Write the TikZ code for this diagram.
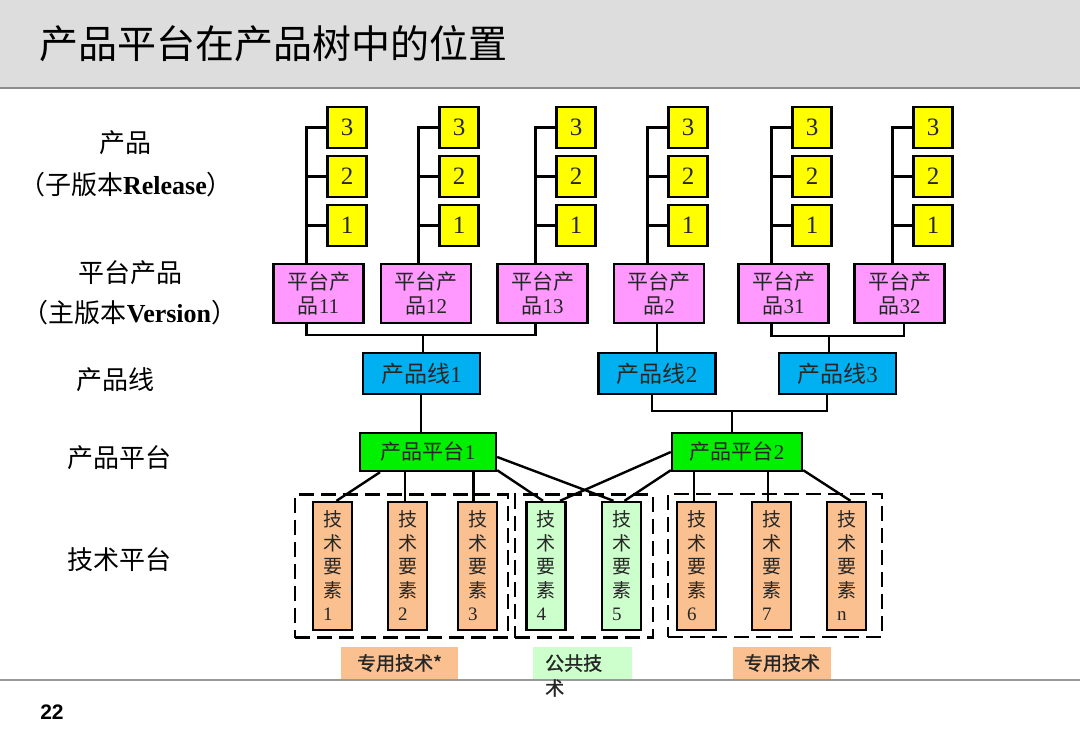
\documentclass[tikz,border=0pt]{standalone}
\usepackage{fontspec}
\setmainfont{Liberation Serif}
\newfontfamily\cjk{Noto Sans CJK SC}
\newfontfamily\cjkb[FakeBold=1.2]{Noto Sans CJK SC}
\newfontfamily\sansb{Liberation Sans}
\definecolor{yel}{HTML}{FFFF00}
\definecolor{pnk}{HTML}{FF99FF}
\definecolor{cyn}{HTML}{00B0F0}
\definecolor{grn}{HTML}{00F000}
\definecolor{tan}{HTML}{FAC090}
\definecolor{lgr}{HTML}{CCFFCC}
\definecolor{hdr}{HTML}{DDDDDD}
\begin{document}
\begin{tikzpicture}[x=1pt,y=-1pt,
  conn/.style={draw=black, line width=2.4pt},
  basebox/.style={draw=black, line width=2.4pt, inner sep=0pt, text=black!85},
  ybox/.style={basebox, fill=yel, minimum width=39pt, minimum height=41pt, font=\fontsize{25}{25}\selectfont},
  pbox/.style={basebox, fill=pnk, minimum width=90pt, minimum height=59pt, align=center, font=\cjk\fontsize{21}{24}\selectfont},
  lbox/.style={basebox, fill=cyn, minimum width=117pt, minimum height=41pt, font=\cjk\fontsize{23}{23}\selectfont},
  gbox/.style={basebox, fill=grn, minimum height=38pt, font=\cjk\fontsize{21}{21}\selectfont},
  tbox/.style={basebox, minimum width=39pt, minimum height=128pt, align=left, font=\cjk\fontsize{19}{23.5}\selectfont},
  dbox/.style={draw=black, line width=2.4pt, dash pattern=on 15pt off 7pt, inner sep=0pt, minimum height=143pt},
  lab/.style={inner sep=0pt, minimum height=32pt},
  labtext/.style={inner sep=0pt, text=black!85, font=\cjkb\fontsize{19}{25}\selectfont},
  side/.style={inner sep=0pt, text=black, font=\cjk\fontsize{26}{26}\selectfont}
]
\useasboundingbox (0,0) rectangle (1080,747);
% header
\fill[hdr] (0,0) rectangle (1080,88);
\draw[line width=2.2pt, color=black!45] (0,88) -- (1080,88);
\node[anchor=west, inner sep=0pt, font=\cjk\fontsize{39}{39}\selectfont] (title) at (39,44) {产品平台在产品树中的位置};
% footer
\draw[line width=1.5pt, color=black!40] (0,680) -- (1080,680);
\node[font=\sansb\bfseries\fontsize{21}{21}\selectfont] (pg) at (52,712) {22};

% side labels
\node[side] (s1) at (125,143) {产品};
\node[side] (s2) at (126,185) {（子版本{\rmfamily\bfseries Release}）};
\node[side] (s3) at (130,273) {平台产品};
\node[side] (s4) at (130,313) {（主版本{\rmfamily\bfseries Version}）};
\node[side] (s5) at (115,380) {产品线};
\node[side] (s6) at (119,458) {产品平台};
\node[side] (s7) at (119,560) {技术平台};

% yellow release boxes
\foreach \i/\x in {1/347,2/459,3/576,4/688,5/812,6/933}{
  \node[ybox] (ya\i) at (\x,127.5) {3};
  \node[ybox] (yb\i) at (\x,176.5) {2};
  \node[ybox] (yc\i) at (\x,225.5) {1};
}
% platform products
\node[pbox] (p1) at (318.5,293.5) {平台产\\品{\rmfamily 11}};
\node[pbox] (p2) at (426,293.5) {平台产\\品{\rmfamily 12}};
\node[pbox] (p3) at (542.5,293.5) {平台产\\品{\rmfamily 13}};
\node[pbox] (p4) at (659,293.5) {平台产\\品{\rmfamily 2}};
\node[pbox] (p5) at (783.5,293.5) {平台产\\品{\rmfamily 31}};
\node[pbox] (p6) at (899.5,293.5) {平台产\\品{\rmfamily 32}};
% columns of release connectors
\foreach \i in {1,...,6}{
  \draw[conn] (ya\i.west) -- ++(-20,0) coordinate (c\i) -- (c\i |- p\i.north);
  \draw[conn] (yb\i.west) -- (yb\i.west -| c\i);
  \draw[conn] (yc\i.west) -- (yc\i.west -| c\i);
}
% product lines
\node[lbox] (l1) at (421.5,373.5) {产品线{\rmfamily 1}};
\node[lbox] (l2) at (657,373.5) {产品线{\rmfamily 2}};
\node[lbox] (l3) at (837.5,373.5) {产品线{\rmfamily 3}};
\coordinate (r1) at (0,335);
\draw[conn] (c1 |- p1.south) -- (c1 |- r1) -- (c3 |- r1) -- (c3 |- p3.south);
\draw[conn] ([xshift=1.5pt]l1.north) -- ([xshift=1.5pt]l1.north |- r1);
\draw[conn] (l2.north) -- (l2.north |- p4.south);
\coordinate (r2) at (0,336);
\draw[conn] (c5 |- p5.south) -- (c5 |- r2) -- ([xshift=4.5pt]p6.south |- r2) -- ([xshift=4.5pt]p6.south);
\draw[conn] ([xshift=-8.5pt]l3.north) -- ([xshift=-8.5pt]l3.north |- r2);

% product platforms
\node[gbox, minimum width=136pt] (g1) at (428,452) {产品平台{\rmfamily 1}};
\node[gbox, minimum width=130pt] (g2) at (737,452) {产品平台{\rmfamily 2}};
\draw[conn] ([xshift=-0.5pt]l1.south) -- ([xshift=-0.5pt]l1.south |- g1.north);
\coordinate (r3) at (0,411);
\draw[conn] ([xshift=-5pt]l2.south) -- ([xshift=-5pt]l2.south |- r3) -- ([xshift=-10.5pt]l3.south |- r3) -- ([xshift=-10.5pt]l3.south);
\draw[conn] ([xshift=-5pt]g2.north) -- ([xshift=-5pt]g2.north |- r3);

% dashed groups
\node[dbox, minimum width=213pt] (d1) at (401.5,566) {};
\node[dbox, minimum width=138pt] (d2) at (584,566) {};
\node[dbox, minimum width=214pt] (d3) at (775,565.5) {};

% technology elements
\node[tbox, fill=tan] (t1) at (332.5,566) {技\\术\\要\\素\\{\rmfamily 1}};
\node[tbox, fill=tan] (t2) at (407.5,566) {技\\术\\要\\素\\{\rmfamily 2}};
\node[tbox, fill=tan] (t3) at (477.5,566) {技\\术\\要\\素\\{\rmfamily 3}};
\node[tbox, fill=lgr] (t4) at (546,566) {技\\术\\要\\素\\{\rmfamily 4}};
\node[tbox, fill=lgr] (t5) at (621.5,566) {技\\术\\要\\素\\{\rmfamily 5}};
\node[tbox, fill=tan] (t6) at (696.5,566) {技\\术\\要\\素\\{\rmfamily 6}};
\node[tbox, fill=tan] (t7) at (771.5,566) {技\\术\\要\\素\\{\rmfamily 7}};
\node[tbox, fill=tan] (t8) at (846.5,566) {技\\术\\要\\素\\{\rmfamily n}};

% platform to element connectors
\draw[conn] ([xshift=-48pt]g1.south) -- ([xshift=4pt]t1.north);
\draw[conn] ([xshift=-2.5pt]t2.north) -- ([xshift=-2.5pt]t2.north |- g1.south);
\draw[conn] ([xshift=-4pt]t3.north) -- ([xshift=-4pt]t3.north |- g1.south);
\draw[conn] ([yshift=2pt]g1.south east) -- ([xshift=-3pt]t4.north);
\draw[conn] ([yshift=-5pt]g1.east) -- ([xshift=-8pt]t5.north);
\draw[conn] (g2.west) -- ([xshift=14pt]t4.north);
\draw[conn] ([yshift=2pt]g2.south west) -- ([xshift=3pt]t5.north);
\draw[conn] ([xshift=-2.5pt]t6.north) -- ([xshift=-2.5pt]t6.north |- g2.south);
\draw[conn] ([xshift=-3.5pt]t7.north) -- ([xshift=-3.5pt]t7.north |- g2.south);
\draw[conn] ([yshift=2pt]g2.south east) -- ([xshift=4pt]t8.north);

% bottom labels
\node[lab, fill=tan, minimum width=117pt] (la) at (399.5,663) {};
\node[labtext] (lat) at (la) {专用技术*};
\node[lab, fill=lgr, minimum width=99pt] (lb) at (582.5,663) {};
\node[labtext, anchor=west, align=left] (lbt) at (545,675.5) {公共技\\术};
\node[lab, fill=tan, minimum width=98pt] (lc) at (782,663) {};
\node[labtext] (lct) at (lc) {专用技术};
\end{tikzpicture}
\end{document}
